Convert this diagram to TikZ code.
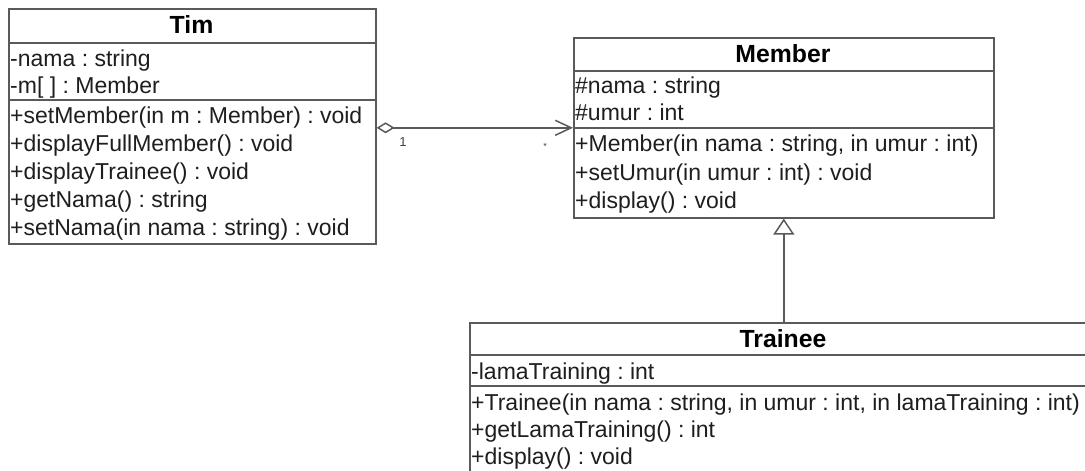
\documentclass[tikz,border=0pt]{standalone}
\usepackage{fontspec}
\setmainfont{Liberation Sans}
\usetikzlibrary{arrows.meta}
\frenchspacing

\definecolor{umlline}{HTML}{5A5A5A}
\definecolor{umltext}{HTML}{1E1E1E}
\newcommand\umlfont{\fontsize{23}{27}\selectfont}
\newcommand\umltitlefont{\fontsize{24.8}{28}\selectfont\bfseries}
\newcommand\umlsmallfont{\fontsize{13}{15}\selectfont}

\begin{document}
\begin{tikzpicture}[x=1pt,y=-1pt,
  classbox/.style={draw=umlline, line width=1.6pt, rectangle, inner sep=0pt,
    anchor=north west, fill=white},
  divider/.style={draw=umlline, line width=1.6pt},
  classname/.style={anchor=base, inner sep=0pt, font=\umltitlefont, text=black},
  feature/.style={anchor=base west, inner sep=0pt, font=\umlfont, text=umltext},
  multiplicity/.style={anchor=center, inner sep=0pt, font=\umlsmallfont, text=black!75},
  assoc/.style={draw=umlline, line width=1.5pt},
]
\useasboundingbox (0,0) rectangle (1085,471);
\clip (0,0) rectangle (1085,471);

% ---- class Tim ----
\node[classbox, minimum width=367pt, minimum height=235pt] (tim) at (8,8) {};
\draw[divider] (tim.west |- 0,43) -- (tim.east |- 0,43);
\draw[divider] (tim.west |- 0,100) -- (tim.east |- 0,100);
\node[classname] (timname) at (191.5,34) {Tim};
\node[feature] (timattr1) at (10,66) {-nama : string};
\node[feature] (timattr2) at (10,93) {-m[ ] : Member};
\node[feature] (timop1) at (10,123) {+setMember(in m : Member) : void};
\node[feature] (timop2) at (10,151) {+displayFullMember() : void};
\node[feature] (timop3) at (10,179) {+displayTrainee() : void};
\node[feature] (timop4) at (10,207) {+getNama() : string};
\node[feature] (timop5) at (10,235) {+setNama(in nama : string) : void};

% ---- class Member ----
\node[classbox, minimum width=420pt, minimum height=180pt] (member) at (573,37) {};
\draw[divider] (member.west |- 0,71) -- (member.east |- 0,71);
\draw[divider] (member.west |- 0,128) -- (member.east |- 0,128);
\node[classname] (membername) at (783,62.5) {Member};
\node[feature] (memberattr1) at (575,93) {\#nama : string};
\node[feature] (memberattr2) at (575,120) {\#umur : int};
\node[feature] (memberop1) at (575,151) {+Member(in nama : string, in umur : int)};
\node[feature] (memberop2) at (575,180) {+setUmur(in umur : int) : void};
\node[feature] (memberop3) at (575,208) {+display() : void};

% ---- class Trainee ----
\node[classbox, minimum width=628pt, minimum height=158pt] (trainee) at (469,322) {};
\draw[divider] (trainee.west |- 0,355) -- (trainee.east |- 0,355);
\draw[divider] (trainee.west |- 0,386) -- (trainee.east |- 0,386);
\node[classname] (traineename) at (783,347) {Trainee};
\node[feature] (traineeattr1) at (471,379) {-lamaTraining : int};
\node[feature] (traineeop1) at (471,410) {+Trainee(in nama : string, in umur : int, in lamaTraining : int)};
\node[feature] (traineeop2) at (471,437) {+getLamaTraining() : int};
\node[feature] (traineeop3) at (471,464) {+display() : void};

% ---- aggregation Tim <>---> Member ----
\draw[assoc, {Diamond[open, length=18pt, width=11pt]}-{Straight Barb[length=16pt, width=15pt]}]
  (tim.east |- member.west) -- (member.west);
\node[multiplicity] (multtim) at (403,142) {1};
\node[multiplicity, font=\fontsize{9}{10}\selectfont] (multmember) at (545,146) {*};

% ---- generalization Trainee --|> Member ----
\draw[assoc, -{Triangle[open, length=16pt, width=21pt]}] (trainee.north) -- (member.south);
\end{tikzpicture}
\end{document}
